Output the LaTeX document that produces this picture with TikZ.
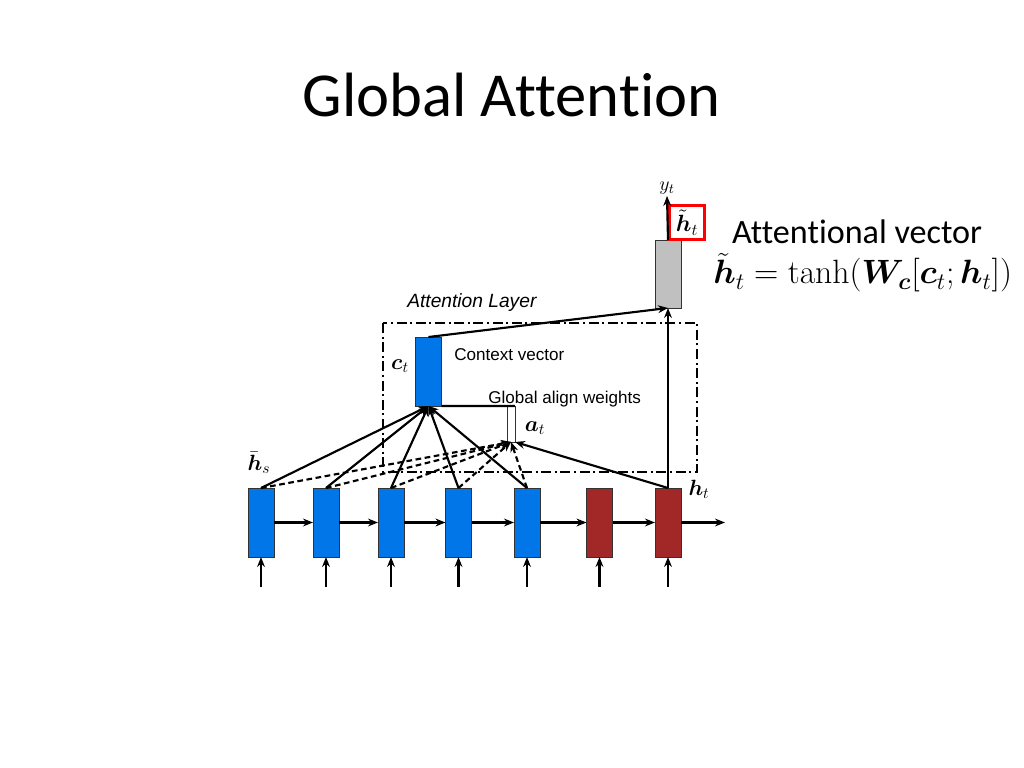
\RequirePackage{fix-cm}
\documentclass[tikz,border=0pt]{standalone}
\usepackage{amsmath}
\usepackage{bm}
\usepackage[no-math]{fontspec}
\setmainfont{Carlito}[Ligatures=NoCommon]
\setsansfont{Liberation Sans}
\usetikzlibrary{arrows.meta,calc,positioning}
\definecolor{cellblue}{RGB}{0,118,232}
\definecolor{cellred}{RGB}{162,40,40}
\definecolor{cellgray}{RGB}{192,192,192}
\newdimen\hdim
\newdimen\wdim
\hdim=48.5pt
\wdim=18.3pt
\tikzstyle{cell}=[
  draw=black!80,
  inner sep=0pt,
  minimum height=\hdim,
  minimum width=\wdim,
  outer sep=0pt,
  rectangle,
  thin,
]
\tikzstyle{encoder}=[cell, fill=cellblue]
\tikzstyle{decoder}=[cell, fill=cellred]
\tikzstyle{arrow}=[
  draw=black,
  line width=1.5pt,
]
\tikzstyle{weight}=[
  arrow,
  dash pattern=on 4pt off 2.5pt,
]
\tikzstyle{frame}=[
  draw=black,
  line width=1.5pt,
  dash pattern=on 7pt off 2.5pt on 1.5pt off 2.5pt,
]
\tikzstyle{desc}=[
  font={\sffamily\fontsize{12}{14}\selectfont},
  inner sep=0pt,
]
\tikzstyle{vec}=[
  font={\fontsize{15.5}{18}\selectfont},
  inner sep=0pt,
]
\tikzset{
  >={Stealth[length=7pt,width=5.5pt]},
}

\begin{document}
\begin{tikzpicture}[x=0.703125pt, y=-0.703125pt]
  \useasboundingbox (0,0) rectangle (1024,768);
  \node (title) [anchor=base, font={\fontsize{44}{50}\selectfont}] at (511.5,117) {Global Attention};
  %%
  \node (src1) [encoder] at (261,522.5) {};
  \node (src2) [encoder] at (326,522.5) {};
  \node (src3) [encoder] at (391,522.5) {};
  \node (src4) [encoder] at (458.5,522.5) {};
  \node (src5) [encoder] at (527,522.5) {};
  \node (tgt1) [decoder] at (599.5,522.5) {};
  \node (tgt2) [decoder] at (668,522.5) {};
  \coordinate (out) at (725,522.5);
  %%
  \node (ctx) [cell, fill=cellblue] at (428.5,371.5) {};
  \node (align) [cell, fill=white, minimum width=5.6pt, minimum height=25.3pt] at (511,424) {};
  \node (attn) [cell, fill=cellgray, minimum height=47.8pt] at (668,274) {};
  \draw [frame] (383,323) rectangle (697,472);
  %%
  \node (layer) [desc, font={\sffamily\itshape\fontsize{13.5}{16}\selectfont}, anchor=base west] at (407,308) {Attention Layer};
  \node (ctxtext) [desc, anchor=base west] at (454,360) {Context vector};
  \node (aligntext) [desc, anchor=base west] at (488,403) {Global align weights};
  \node (ct) [vec] at (400,366) {$\bm{c}_t$};
  \node (at) [vec] at (535,428) {$\bm{a}_t$};
  \node (hs) [vec] at (259,463) {$\bar{\bm{h}}_s$};
  \node (ht) [vec] at (699,489) {$\bm{h}_t$};
  \node (yt) [font={\fontsize{14}{16}\selectfont}, inner sep=1pt] at (667,188) {$y_t$};
  \node (htilde) [draw=red, line width=2.2pt, inner sep=0pt, minimum width=24.5pt, minimum height=24pt,
    font={\fontsize{16.5}{19}\selectfont}] at (687,222.5) {$\tilde{\bm{h}}_t$};
  %%
  \node (vectext) [anchor=base west, font={\fontsize{24}{28}\selectfont}] at (727,244) {Attentional vector};
  \node (formula) [anchor=base west, inner sep=0pt, font={\fontsize{23.7}{27}\selectfont}] at (713,284)
    {$\tilde{\bm{h}}_t = \tanh(\bm{W}_{\bm{c}}[\bm{c}_t;\bm{h}_t])$};
  %%
  \foreach \a/\b in {src1/src2, src2/src3, src3/src4, src4/src5, src5/tgt1, tgt1/tgt2}
    \draw [->, arrow] (\a) -- (\b);
  \draw [->, arrow] (tgt2) -- (out);
  \foreach \n in {src1, src2, src3, src4, src5, tgt1, tgt2} {
    \coordinate (\n-in) at ($(\n.south)+(0,30)$);
    \draw [->, arrow] (\n-in) -- (\n.south);
  }
  %%
  \foreach \n in {src1, src2, src3, src4, src5} {
    \draw [->, weight] (\n.north) -- (align.south);
    \draw [->, arrow] (\n.north) -- (ctx.south);
  }
  \draw [->, arrow] (tgt2.north) -- (align.south east);
  \draw [arrow] (align.north east) -- (ctx.south east);
  \draw [->, arrow] (ctx.north) -- (attn.south);
  \draw [->, arrow] (tgt2.north) -- (attn.south);
  \draw [->, arrow] (attn.north) -- (yt.south);
\end{tikzpicture}
\end{document}
